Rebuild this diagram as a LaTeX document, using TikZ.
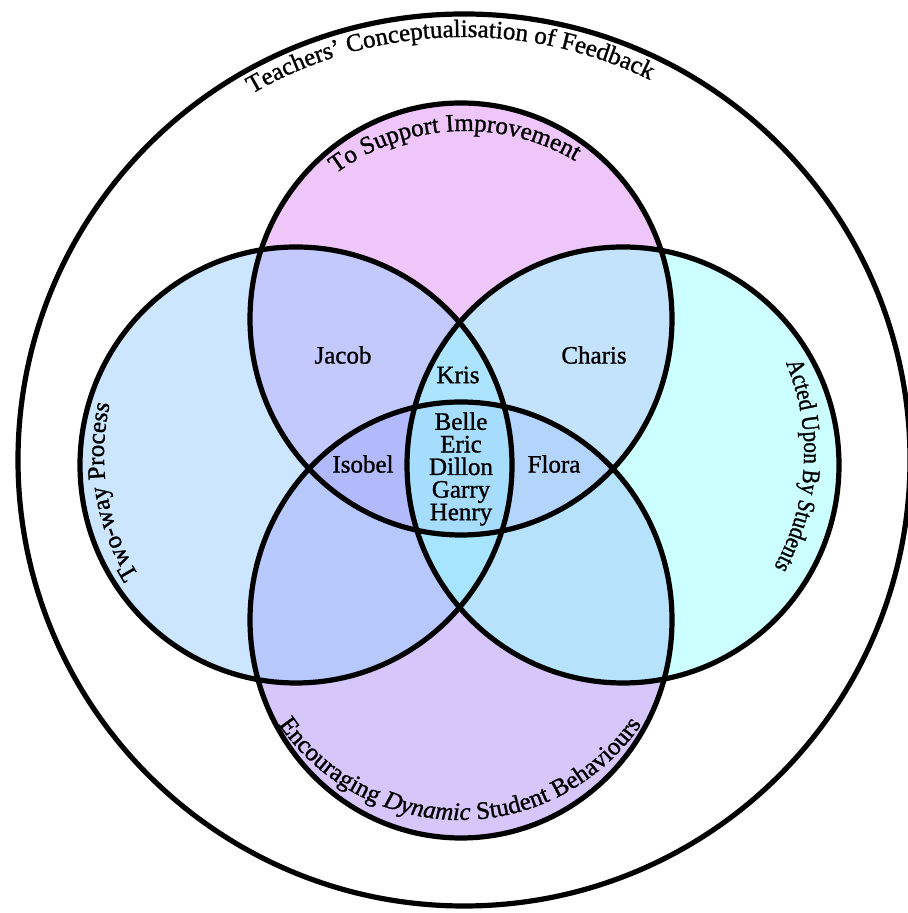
\documentclass[tikz,border=0pt]{standalone}
\usepackage{fontspec}
\setmainfont{Liberation Serif}[FakeBold=1.1]
\newfontfamily\squeezed{Liberation Serif}[FakeStretch=0.85,FakeBold=1.1]
\usetikzlibrary{decorations.text}
\definecolor{improve}{HTML}{DD8DF5}
\definecolor{dynamic}{HTML}{AD8DF5}
\definecolor{twoway}{HTML}{99CDFF}
\definecolor{acted}{HTML}{99FFFF}
\newcommand\lab{\fontsize{12.5}{13}\selectfont}

\begin{document}
\begin{tikzpicture}[x=0.5pt,y=0.5pt,
  ring/.style={line width=2.6pt},
  tint/.style={fill=#1,fill opacity=0.5},
  who/.style={font=\fontsize{12.5}{11.3}\selectfont,align=center,inner sep=0pt},
  curved/.style={decorate,decoration={text along path,text align=center,text={|\lab|#1}}}]
\useasboundingbox (0,0) rectangle (907,913);
\coordinate (feedback) at (464,453);
\coordinate (improveC) at (461,594);
\coordinate (dynamicC) at (461,293);
\coordinate (twowayC) at (296,448);
\coordinate (actedC) at (623,448);
% tints first, outlines on top
\fill[tint=improve] (improveC) ellipse[x radius=211,y radius=216];
\fill[tint=dynamic] (dynamicC) ellipse[x radius=211,y radius=218];
\fill[tint=twoway] (twowayC) ellipse[x radius=216,y radius=218];
\fill[tint=acted] (actedC) ellipse[x radius=216,y radius=218];
\draw[ring] (feedback) circle[radius=446];
\draw[ring] (improveC) ellipse[x radius=211,y radius=216];
\draw[ring] (dynamicC) ellipse[x radius=211,y radius=218];
\draw[ring] (twowayC) ellipse[x radius=216,y radius=218];
\draw[ring] (actedC) ellipse[x radius=216,y radius=218];
% labels along the rims
\path[curved={Teachers' Conceptualisation of Feedback}] (feedback) ++(182:423) arc[start angle=182,end angle=2,radius=423];
\coordinate (improveT) at (465,565);
\path[curved={To Support Improvement}] (improveT) ++(183:217) arc[start angle=183,end angle=3,radius=217];
\coordinate (dynamicT) at (460,313);
\path[curved={Encouraging |\lab\itshape|Dynamic|\lab| Student Behaviours}] (dynamicT) ++(180:220) arc[start angle=180,end angle=360,radius=220];
\coordinate (twowayT) at (330,458);
\path[curved={Two-way Process}] (twowayT) ++(259.5:226) arc[start angle=259.5,end angle=119.5,radius=226];
\coordinate (actedT) at (572,460);
\path[curved={|\lab\squeezed|Acted Upon By Students}] (actedT) ++(66.7:232) arc[start angle=66.7,end angle=-73.3,radius=232];
% teachers
\node[who] (jacob) at (343,558) {Jacob};
\node[who] (charis) at (594,558) {Charis};
\node[who] (kris) at (458,538) {Kris};
\node[who] (isobel) at (363,449) {Isobel};
\node[who] (flora) at (554,449) {Flora};
\node[who] (core) at (461,444) {Belle\\Eric\\Dillon\\Garry\\Henry};
\end{tikzpicture}
\end{document}
